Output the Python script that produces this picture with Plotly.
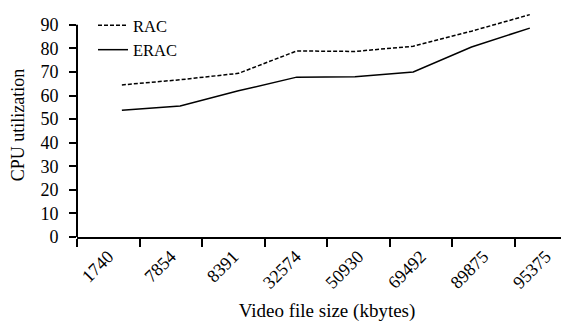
import plotly.graph_objects as go

sizes = ["1740", "7854", "8391", "32574", "50930", "69492", "89875", "95375"]
rac = [64.5, 66.7, 69.4, 78.9, 78.7, 80.9, 87.3, 94.3]
erac = [53.8, 55.6, 62.0, 67.8, 68.0, 70.0, 80.6, 88.6]
y_ticks = [0, 10, 20, 30, 40, 50, 60, 70, 80, 90]

FONT = "Liberation Serif"

fig = go.Figure()
# anchor trace for the labelled category axis
fig.add_trace(go.Scatter(x=sizes, y=[None] * len(sizes), mode="lines",
                         showlegend=False, hoverinfo="skip"))
fig.add_trace(go.Scatter(x=sizes, y=rac, name="RAC", mode="lines", xaxis="x2",
                         line=dict(color="black", width=1.5, dash="4px,2px")))
fig.add_trace(go.Scatter(x=sizes, y=erac, name="ERAC", mode="lines", xaxis="x2",
                         line=dict(color="black", width=1.5)))

fig.update_layout(
    width=569, height=324,
    margin=dict(l=69, r=0, t=5, b=95, autoexpand=False),
    paper_bgcolor="white", plot_bgcolor="white",
    font=dict(family=FONT, size=18, color="black"),
    showlegend=True,
    legend=dict(x=0.032, y=1.0, xanchor="left", yanchor="top", yref="container",
                bgcolor="rgba(0,0,0,0)", font=dict(size=16.5), itemwidth=30,
                tracegroupgap=0),
    xaxis=dict(type="category", categoryorder="array", categoryarray=sizes,
               tickvals=sizes, range=[-0.5, 7.5], tickson="boundaries",
               ticks="outside", ticklen=8, tickwidth=2, tickcolor="black",
               showline=True, linewidth=2, linecolor="black", showgrid=False,
               tickangle=-45, tickfont=dict(size=18), automargin=False,
               title=dict(text="Video file size (kbytes)", font=dict(size=19), standoff=12)),
    xaxis2=dict(type="category", categoryorder="array", categoryarray=sizes,
                overlaying="x", range=[-0.77, 7.81], visible=False),
    yaxis=dict(range=[0, 95], tickvals=y_ticks, ticks="outside", ticklen=7,
               tickwidth=2, tickcolor="black", showline=False, showgrid=False,
               zeroline=False, tickfont=dict(size=18), ticklabelstandoff=7,
               automargin=False,
               title=dict(text="CPU utilization", font=dict(size=18), standoff=14)),
    shapes=[dict(type="line", xref="paper", yref="y", x0=0, x1=0, y0=0, y1=90,
                 line=dict(color="black", width=2))],
)

fig.write_html("out.html")
